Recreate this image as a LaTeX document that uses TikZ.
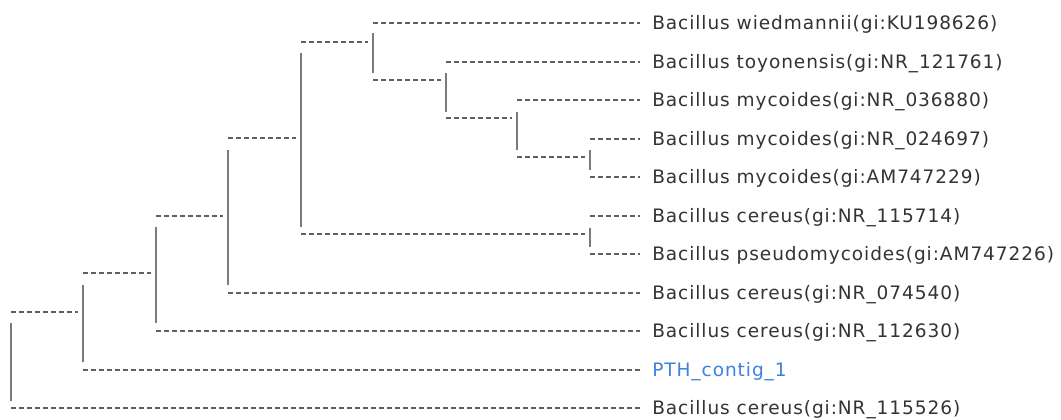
\documentclass[tikz,border=0pt]{standalone}
\usepackage{fontspec}
\newfontfamily\lblfont{DejaVu Sans}[LetterSpace=5]
\definecolor{txtgray}{HTML}{333333}
\definecolor{dashgray}{HTML}{606060}
\definecolor{vgray}{HTML}{7A7A7A}
\definecolor{pthblue}{HTML}{3A82E0}
\begin{document}
\begin{tikzpicture}[x=0.75pt,y=-0.75pt,
  dline/.style={draw=dashgray,line width=1.5pt,dash pattern=on 3.6pt off 2.4pt},
  vline/.style={draw=vgray,line width=1.6pt},
  leaf/.style={anchor=west,inner xsep=9pt,inner ysep=0pt,text height=9.75pt,text depth=0pt,
    font=\lblfont\fontsize{13.9pt}{16pt}\selectfont,text=txtgray}]
\useasboundingbox (0,0) rectangle (1061,419);
% leaves
\node[leaf] (L1) at (640,23) {Bacillus wiedmannii(gi:KU198626)};
\node[leaf] (L2) at (640,61.5) {Bacillus toyonensis(gi:NR\_121761)};
\node[leaf] (L3) at (640,100) {Bacillus mycoides(gi:NR\_036880)};
\node[leaf] (L4) at (640,138.5) {Bacillus mycoides(gi:NR\_024697)};
\node[leaf] (L5) at (640,177) {Bacillus mycoides(gi:AM747229)};
\node[leaf] (L6) at (640,215.5) {Bacillus cereus(gi:NR\_115714)};
\node[leaf] (L7) at (640,254) {Bacillus pseudomycoides(gi:AM747226)};
\node[leaf] (L8) at (640,292.5) {Bacillus cereus(gi:NR\_074540)};
\node[leaf] (L9) at (640,331) {Bacillus cereus(gi:NR\_112630)};
\node[leaf,text=pthblue] (L10) at (640,369.5) {PTH\_contig\_1};
\node[leaf] (L11) at (640,408) {Bacillus cereus(gi:NR\_115526)};
% internal nodes: edge point and vertical ends
\coordinate (R) at (11,360);   \coordinate (Rt) at (11,323);    \coordinate (Rb) at (11,401);
\coordinate (E) at (83,311.7); \coordinate (Et) at (83,285);    \coordinate (Eb) at (83,362);
\coordinate (F) at (156,272.7); \coordinate (Ft) at (156,226.7); \coordinate (Fb) at (156,323);
\coordinate (G) at (228,215.7); \coordinate (Gt) at (228,150);  \coordinate (Gb) at (228,285);
\coordinate (H) at (301,138);  \coordinate (Ht) at (301,53);    \coordinate (Hb) at (301,226.7);
\coordinate (I) at (373,42.3); \coordinate (It) at (373,33);    \coordinate (Ib) at (373,73);
\coordinate (C) at (446,80);   \coordinate (Ct) at (446,72.7);  \coordinate (Cb) at (446,111.7);
\coordinate (B) at (517,118);  \coordinate (Bt) at (517,111.7); \coordinate (Bb) at (517,150);
\coordinate (A) at (590,157);  \coordinate (At) at (590,150);   \coordinate (Ab) at (590,170);
\coordinate (D) at (590,234.3); \coordinate (Dt) at (590,228);  \coordinate (Db) at (590,246.7);
% verticals
\foreach \n in {R,E,F,G,H,I,C,B,A,D} {\draw[vline] (\n t) -- (\n b);}
% internal edges
\draw[dline] (E -| R) -- ([xshift=-3.5pt]E);
\draw[dline] (F -| E) -- ([xshift=-3.5pt]F);
\draw[dline] (G -| F) -- ([xshift=-3.5pt]G);
\draw[dline] (H -| G) -- ([xshift=-3.5pt]H);
\draw[dline] (I -| H) -- ([xshift=-3.5pt]I);
\draw[dline] (D -| H) -- ([xshift=-3.5pt]D);
\draw[dline] (C -| I) -- ([xshift=-3.5pt]C);
\draw[dline] (B -| C) -- ([xshift=-3.5pt]B);
\draw[dline] (A -| B) -- ([xshift=-3.5pt]A);
% leaf edges
\draw[dline] (L1.west -| I) -- (L1.west);
\draw[dline] (L2.west -| C) -- (L2.west);
\draw[dline] (L3.west -| B) -- (L3.west);
\draw[dline] (L4.west -| A) -- (L4.west);
\draw[dline] (L5.west -| A) -- (L5.west);
\draw[dline] (L6.west -| D) -- (L6.west);
\draw[dline] (L7.west -| D) -- (L7.west);
\draw[dline] (L8.west -| G) -- (L8.west);
\draw[dline] (L9.west -| F) -- (L9.west);
\draw[dline] (L10.west -| E) -- (L10.west);
\draw[dline] (L11.west -| R) -- (L11.west);
\end{tikzpicture}
\end{document}
